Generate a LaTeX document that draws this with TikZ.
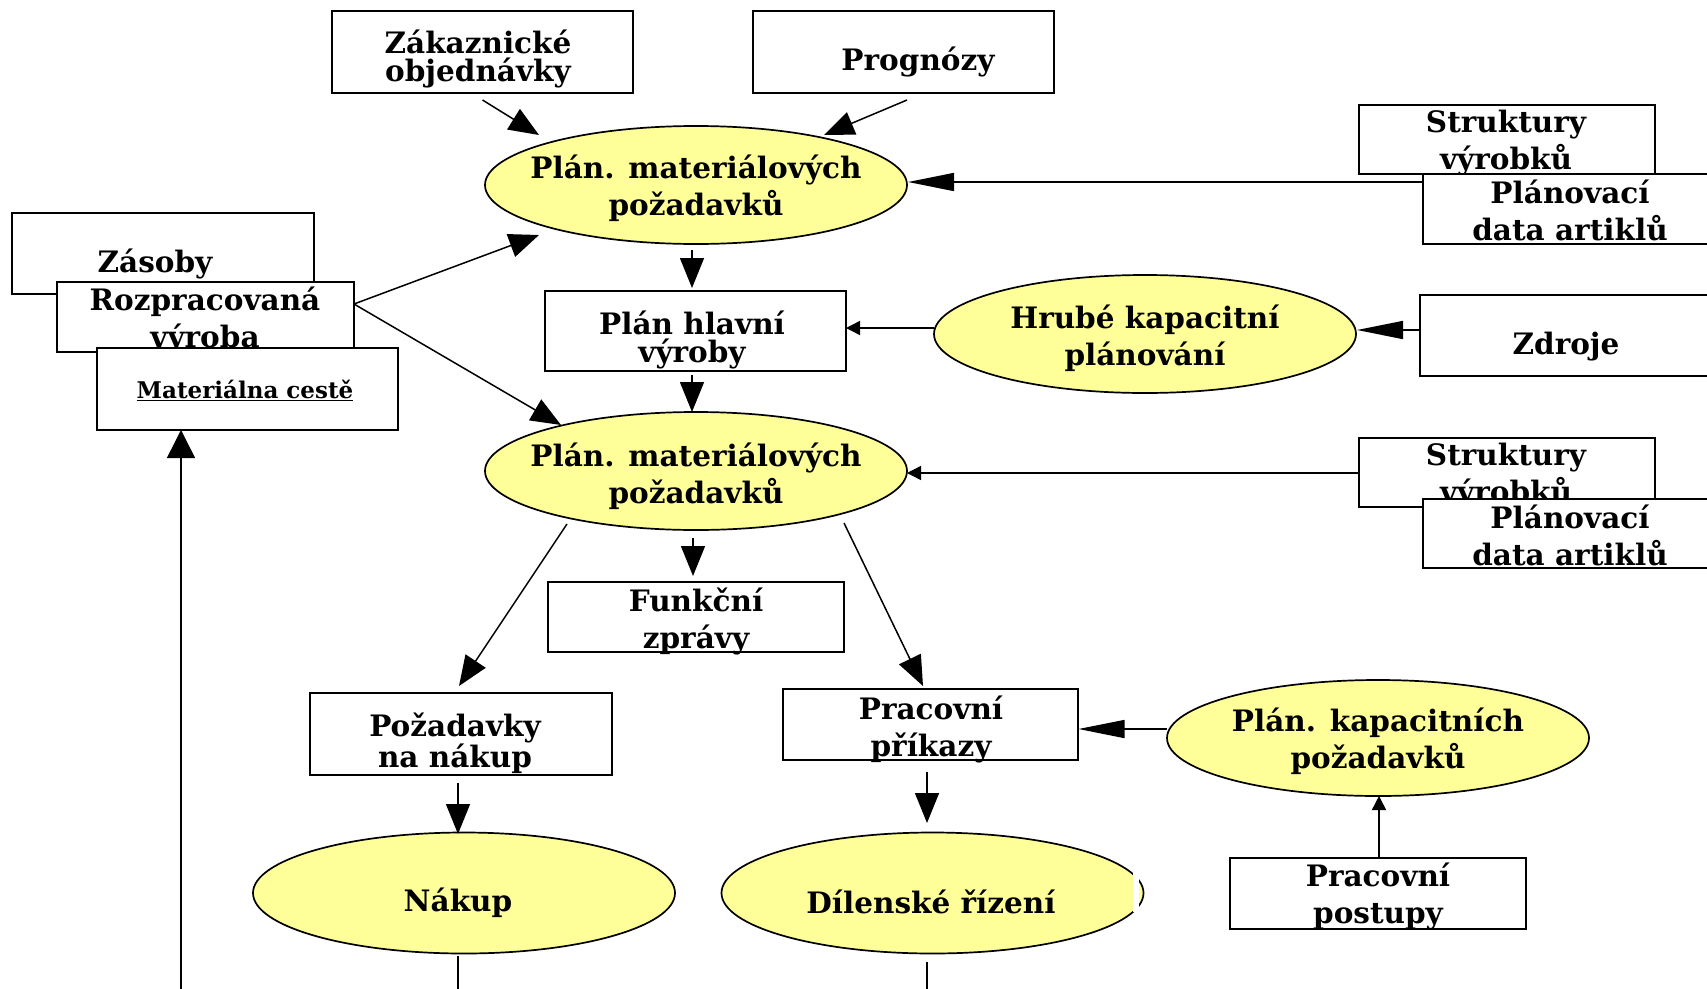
\documentclass[tikz,border=0pt]{standalone}
\usepackage{fontspec}
\setmainfont{DejaVu Serif}
\usetikzlibrary{arrows.meta,shapes.geometric,calc}

\begin{document}
\begin{tikzpicture}[x=1pt,y=-1pt,
  box/.style={draw,line width=1.7pt,fill=white,inner sep=0pt,outer sep=0pt},
  ell/.style={ellipse,draw,line width=1.7pt,fill=yellowfill,inner sep=0pt,outer sep=0pt,
    minimum width=422pt,minimum height=118pt},
  lbl/.style={font=\bfseries\fontsize{29.5}{37}\selectfont,align=center,inner sep=0pt},
  tight/.style={font=\bfseries\fontsize{29.5}{28.5}\selectfont},
  conn/.style={line width=1.5pt},
  bighead/.style={conn,-{Triangle[length=30pt,width=24pt]}},
  longhead/.style={conn,-{Triangle[length=46pt,width=18pt]}},
  smallhead/.style={conn,-{Triangle[length=14pt,width=14pt]}}]
\definecolor{yellowfill}{HTML}{FFFF99}
\clip (0,0) rectangle (1707,988);
\fill[white] (0,0) rectangle (1707,988);

% ---- inputs at the top
\node[box,minimum width=301pt,minimum height=82pt] (zak) at (482.5,52) {};
\node[lbl,tight] (zakt) at (478,59) {Zákaznické\\objednávky};
\node[box,minimum width=301pt,minimum height=82pt] (prog) at (903.5,52) {};
\node[lbl] (progt) at (918,62) {Prognózy};

% ---- first material requirements planning
\node[ell] (pm1) at (696,185) {};
\node[lbl] (pm1t) at (696,188.5) {Plán. materiálových\\požadavků};

% ---- product structures and item data (upper pair)
\node[box,minimum width=296pt,minimum height=69pt] (str1) at (1507,139.5) {};
\node[lbl] (str1t) at (1506,143.5) {Struktury\\výrobků};
\node[box,minimum width=296pt,minimum height=70pt] (plv1) at (1571,209) {};
\node[lbl] (plv1t) at (1570,210.5) {Plánovací\\data artiklů};

% ---- stock boxes on the left
\node[box,minimum width=302pt,minimum height=81pt] (zas) at (163,253.5) {};
\node[lbl] (zast) at (155,263.5) {Zásoby};
\node[box,minimum width=297pt,minimum height=70pt] (roz) at (205.5,317) {};
\node[lbl] (rozt) at (205,320) {Rozpracovaná\\výroba};
\node[box,minimum width=301pt,minimum height=82pt] (mat) at (247.5,389) {};
\node[lbl,font=\bfseries\fontsize{23}{28}\selectfont] (matt) at (245,390) {\underline{Materiálna cestě}};

% ---- master production schedule and rough-cut capacity
\node[box,minimum width=301pt,minimum height=80pt] (php) at (695.5,331) {};
\node[lbl,tight] (phpt) at (692,340) {Plán hlavní\\výroby};
\node[ell] (hkp) at (1145,334) {};
\node[lbl] (hkpt) at (1145,338.5) {Hrubé kapacitní\\plánování};
\node[box,minimum width=301pt,minimum height=81pt] (zdr) at (1570.5,335.5) {};
\node[lbl] (zdrt) at (1566,347) {Zdroje};

% ---- second material requirements planning
\node[ell] (pm2) at (696,471) {};
\node[lbl] (pm2t) at (696,476) {Plán. materiálových\\požadavků};
\node[box,minimum width=296pt,minimum height=69pt] (str2) at (1507,472.5) {};
\node[lbl] (str2t) at (1506,476.5) {Struktury\\výrobků};
\node[box,minimum width=296pt,minimum height=69pt] (plv2) at (1571,533.5) {};
\node[lbl] (plv2t) at (1570,535) {Plánovací\\data artiklů};

% ---- outputs
\node[box,minimum width=296pt,minimum height=70pt] (fun) at (696,617) {};
\node[lbl] (funt) at (696,621) {Funkční\\zprávy};
\node[box,minimum width=302pt,minimum height=82pt] (poz) at (461,734) {};
\node[lbl,tight] (pozt) at (455,743) {Požadavky\\na nákup};
\node[box,minimum width=295pt,minimum height=71pt] (pri) at (930.5,724.5) {};
\node[lbl] (prit) at (931,729.5) {Pracovní\\příkazy};
\node[ell,minimum height=116pt] (pkp) at (1378,738) {};
\node[lbl] (pkpt) at (1378,741) {Plán. kapacitních\\požadavků};
\node[box,minimum width=296pt,minimum height=71pt] (pos) at (1378,893.5) {};
\node[lbl] (post) at (1378,896.5) {Pracovní\\postupy};

% ---- executing functions
\node[ell,minimum height=121pt] (nak) at (464,893) {};
\node[lbl] (nakt) at (458,903) {Nákup};
\node[ell,minimum height=121pt] (dil) at (932.5,893) {};
\fill[white] (1133,868) rectangle (1138.5,912);
\node[lbl] (dilt) at (931,902) {Dílenské řízení};

% ---- free ends at the lower edge
\coordinate (nakend) at (458,990);
\coordinate (dilend) at (927,990);
\coordinate (matstart) at (181,990);

% ---- connectors
\draw[bighead] ($(zak)+(0,48)$) -- ($(pm1)+(-157,-50)$);
\draw[bighead] ($(prog)+(3.5,48)$) -- ($(pm1)+(128,-50)$);
\draw[longhead] ($(plv1)+(-148,-27)$) -- ($(pm1)+(212,-3)$);
\draw[bighead] ($(pm1)+(-4,65)$) -- ($(php)+(-3.5,-43)$);
\draw[smallhead] ($(hkp)+(-211,-6)$) -- ($(php)+(150.5,-3)$);
\draw[longhead] ($(zdr)+(-150.5,-5.5)$) -- ($(hkp)+(212,-4)$);
\draw[bighead] ($(roz)+(148.5,-13)$) -- ($(pm1)+(-157,50)$);
\draw[bighead] ($(roz)+(148.5,-13)$) -- ($(pm2)+(-135,-46)$);
\draw[bighead] ($(php)+(-3.5,44)$) -- ($(pm2)+(-4,-59)$);
\draw[smallhead] ($(str2)+(-148,0.5)$) -- ($(pm2)+(211,2)$);
\draw[bighead] ($(pm2)+(-3,67)$) -- ($(fun)+(-3,-41)$);
\draw[bighead] ($(pm2)+(-129,53)$) -- ($(poz)+(-2,-48)$);
\draw[bighead] ($(pm2)+(148,52)$) -- ($(pri)+(-7.5,-38.5)$);
\draw[bighead] ($(poz)+(-3,49)$) -- ($(nak)+(-6,-59)$);
\draw[bighead] ($(pri)+(-3.5,47.5)$) -- ($(dil)+(-5.5,-70)$);
\draw[longhead] ($(pkp)+(-211,-9)$) -- ($(pri)+(148,4.5)$);
\draw[smallhead] ($(pos)+(1,-36.5)$) -- ($(pkp)+(1,58)$);
\draw[conn] ($(nak)+(-6,63)$) -- (nakend);
\draw[conn] ($(dil)+(-5.5,69)$) -- (dilend);
\draw[conn,-{Triangle[length=28pt,width=28pt]}] (matstart) -- (mat.south -| matstart);
\end{tikzpicture}
\end{document}
